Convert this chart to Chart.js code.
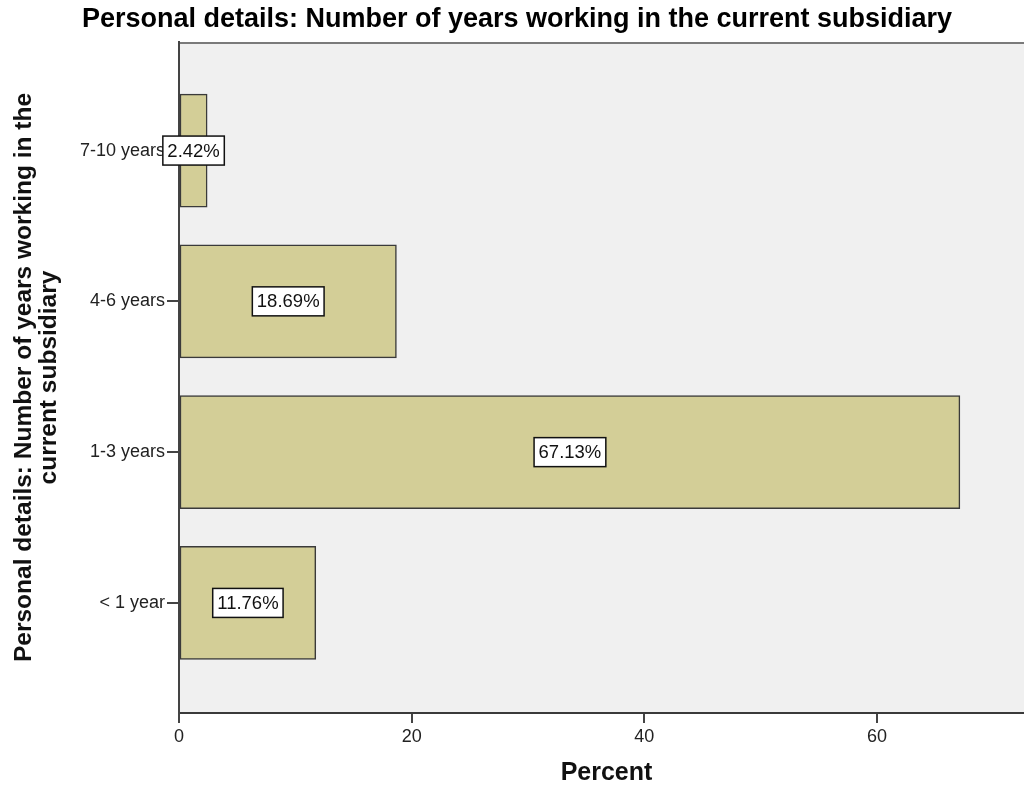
<!DOCTYPE html>
<html>
<head>
<meta charset="utf-8">
<title>Personal details: Number of years working in the current subsidiary</title>
<script src="https://cdn.jsdelivr.net/npm/chart.js@4/dist/chart.umd.min.js"></script>
<style>
  html, body { margin: 0; padding: 0; background: #ffffff; overflow: hidden; }
  canvas { display: block; }
</style>
</head>
<body>
<canvas id="chart" width="1034" height="787"></canvas>
<script>
// Categories listed bottom-to-top along the vertical axis
const categories = ['< 1 year', '1-3 years', '4-6 years', '7-10 years'];
const percents = [11.76, 67.13, 18.69, 2.42];
const percentTicks = [0, 20, 40, 60];

const chartTitle = 'Personal details: Number of years working in the current subsidiary';
const yTitle = ['Personal details: Number of years working in the', 'current subsidiary'];
const xTitle = 'Percent';

const FONT = '"Liberation Sans", Arial, Helvetica, sans-serif';

// Light grey plot panel with a thin frame line along its top
const panelPlugin = {
  id: 'panel',
  beforeDraw(chart) {
    const { ctx, chartArea: a } = chart;
    ctx.save();
    ctx.fillStyle = '#f0f0f0';
    ctx.fillRect(a.left, a.top, a.right - a.left, a.bottom - a.top);
    ctx.strokeStyle = '#7a7a7a';
    ctx.lineWidth = 2;
    ctx.beginPath();
    ctx.moveTo(a.left, a.top + 1);
    ctx.lineTo(a.right, a.top + 1);
    ctx.stroke();
    ctx.restore();
  }
};

// Boxed percentage label in the middle of each bar
const valueLabelPlugin = {
  id: 'valueLabels',
  afterDatasetsDraw(chart) {
    const { ctx } = chart;
    const meta = chart.getDatasetMeta(0);
    ctx.save();
    ctx.font = '18.5px ' + FONT;
    ctx.textAlign = 'center';
    ctx.textBaseline = 'middle';
    meta.data.forEach((bar, i) => {
      const text = percents[i].toFixed(2) + '%';
      const cx = (bar.base + bar.x) / 2;
      const cy = bar.y;
      const w = ctx.measureText(text).width + 9;
      const h = 29;
      ctx.fillStyle = '#ffffff';
      ctx.fillRect(cx - w / 2, cy - h / 2, w, h);
      ctx.strokeStyle = '#111111';
      ctx.lineWidth = 1.5;
      ctx.strokeRect(cx - w / 2, cy - h / 2, w, h);
      ctx.fillStyle = '#111111';
      ctx.fillText(text, cx, cy + 1);
    });
    ctx.restore();
  }
};

new Chart(document.getElementById('chart'), {
  type: 'bar',
  data: {
    datasets: [{
      data: percents.map((v, i) => ({ x: v, y: i })),
      backgroundColor: '#d3ce97',
      borderColor: '#3a3a3a',
      borderWidth: 1.5,
      borderSkipped: false,
      barThickness: 113
    }]
  },
  options: {
    indexAxis: 'y',
    responsive: false,
    animation: false,
    devicePixelRatio: 1,
    layout: { padding: 0 },
    plugins: {
      legend: { display: false },
      tooltip: { enabled: false },
      title: {
        display: true,
        text: chartTitle,
        color: '#000000',
        font: { family: FONT, size: 27, weight: 'bold', lineHeight: 1.2 },
        padding: { top: 3.8, bottom: 5.8 }
      }
    },
    scales: {
      x: {
        type: 'linear',
        position: 'bottom',
        min: 0,
        max: 73.5,
        afterFit(scale) { scale.height = 74; },
        grid: { drawOnChartArea: false, drawTicks: true, tickLength: 10, color: '#444444', lineWidth: 2 },
        border: { display: true, color: '#3a3a3a', width: 2 },
        ticks: {
          stepSize: 20,
          includeBounds: false,
          maxRotation: 0,
          padding: 3,
          color: '#222222',
          font: { family: FONT, size: 18 },
          callback: (v) => percentTicks.includes(v) ? String(v) : ''
        },
        title: {
          display: true,
          text: xTitle,
          color: '#111111',
          font: { family: FONT, size: 25, weight: 'bold', lineHeight: 28 / 25 },
          padding: { top: 0, bottom: 0 }
        }
      },
      y: {
        type: 'linear',
        position: 'left',
        min: -0.73,
        max: 3.72,
        offset: false,
        afterFit(scale) { scale.width = 179; },
        grid: { offset: false, drawOnChartArea: false, drawTicks: true, tickLength: 12, color: '#444444', lineWidth: 2 },
        border: { display: true, color: '#444444', width: 2 },
        ticks: {
          stepSize: 1,
          includeBounds: false,
          autoSkip: false,
          padding: 2,
          color: '#222222',
          font: { family: FONT, size: 18 },
          callback: (v) => Number.isInteger(v) && categories[v] !== undefined ? categories[v] : ''
        },
        title: {
          display: true,
          text: yTitle,
          color: '#111111',
          font: { family: FONT, size: 24.5, weight: 'bold', lineHeight: 25 / 24.5 },
          padding: { top: 12, bottom: 0 }
        }
      }
    }
  },
  plugins: [panelPlugin, valueLabelPlugin]
});
</script>
</body>
</html>
